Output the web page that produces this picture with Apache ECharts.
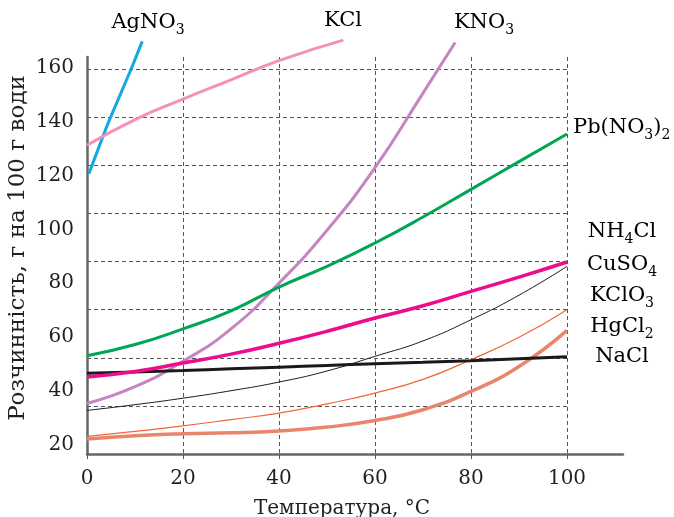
<!DOCTYPE html>
<html>
<head>
<meta charset="utf-8">
<script src="https://cdn.jsdelivr.net/npm/echarts@6/dist/echarts.min.js"></script>
<style>
  html, body { margin: 0; padding: 0; background: #fff; }
  #main { width: 674px; height: 517px; }
</style>
</head>
<body>
<div id="main"></div>
<script>
// температура, °C
var temps = [0, 10, 20, 30, 40, 50, 60, 70, 80, 90, 100];
var yTicks = [20, 40, 60, 80, 100, 120, 140, 160];

// розчинність, г на 100 г води
var pbNO3 = [40.8, 45.5, 52, 59.5, 69.4, 78, 87.7, 98.5, 110, 121.5, 133];
var nh4Cl = [32, 34.3, 37.8, 41.5, 46, 51, 56.5, 61.6, 67.6, 73.5, 79.8];
var cuSO4 = [18.1, 20.5, 23.2, 26.3, 29.9, 34.5, 40.6, 47, 55.8, 66, 78];
var kClO3 = [7.3, 9.4, 11.7, 14.3, 17, 20.8, 25.3, 31, 39.2, 48.5, 60];
var hgCl2 = [6.2, 7.6, 8.4, 8.8, 9.6, 11.2, 13.9, 18.4, 26, 36.4, 51.4];
var naCl = [33.6, 34.1, 34.7, 35.4, 36.1, 36.8, 37.5, 38.1, 38.8, 39.6, 40.4];

var agTemps = [0.4, 4.4, 9.2, 11.5];
var agNO3 = [116.5, 137.5, 160, 171.5];
var kclTemps = [0, 10, 20, 30, 40, 53.4];
var kCl = [128.3, 139, 147.5, 155.5, 163.5, 172];
var knoTemps = [0, 10, 20, 30, 40, 50, 60, 70, 76.7];
var kNO3 = [21, 28, 38.5, 52, 71, 93, 119, 150, 171];

function pairs(xs, ys) {
  return xs.map(function (x, i) { return [x, ys[i]]; });
}

var font = "DejaVu Serif";
var ink = "#231f20";
var grid = { type: [4, 3], color: "#555", width: 1 };

function curve(name, xs, ys, color, width, smooth) {
  return {
    name: name,
    type: "line",
    xAxisIndex: 0,
    yAxisIndex: 0,
    data: pairs(xs, ys),
    smooth: smooth === undefined ? true : smooth,
    symbol: "none",
    clip: false,
    lineStyle: { color: color, width: width, cap: "butt" }
  };
}

function chemText(x, y, parts, align) {
  // {a|..} main text, {s|..} subscript
  return {
    type: "text",
    x: x,
    y: y,
    style: {
      text: parts,
      align: align || "center",
      verticalAlign: "middle",
      rich: {
        a: { fontFamily: font, fontSize: 21, lineHeight: 28, color: ink },
        s: { fontFamily: font, fontSize: 14, lineHeight: 14, color: ink, verticalAlign: "bottom" }
      }
    }
  };
}

var myChart = echarts.init(document.getElementById("main"));

myChart.setOption({
  animation: false,
  backgroundColor: "#fff",
  grid: [
    { left: 87, top: 57, width: 480, height: 397 },
    { left: 87, top: 57, width: 536, height: 397 }
  ],
  xAxis: [
    {
      gridIndex: 0,
      type: "value",
      min: 0,
      max: 100,
      interval: 20,
      axisLine: { show: false },
      axisTick: { show: true, length: 5, lineStyle: { color: "#555", width: 1 } },
      axisLabel: { fontFamily: font, fontSize: 20, color: ink, margin: 15 },
      splitLine: { show: true, showMinLine: false, lineStyle: grid }
    },
    {
      gridIndex: 1,
      type: "value",
      min: 0,
      max: 1,
      axisLine: { show: true, lineStyle: { color: "#666", width: 2.5 } },
      axisTick: { show: false },
      axisLabel: { show: false },
      splitLine: { show: false }
    }
  ],
  yAxis: [
    {
      gridIndex: 0,
      type: "value",
      min: 0,
      max: 165,
      interval: 20,
      axisLine: { show: false },
      axisTick: { show: false },
      axisLabel: { show: false },
      splitLine: { show: true, showMinLine: false, showMaxLine: false, lineStyle: grid }
    },
    {
      // tick labels sit on their own scale, as in the original figure
      gridIndex: 1,
      type: "value",
      min: 16.6,
      max: 164.0,
      axisLine: { show: true, lineStyle: { color: "#666", width: 2.5 } },
      axisTick: { show: false },
      axisLabel: {
        customValues: yTicks,
        fontFamily: font,
        fontSize: 20,
        color: ink,
        margin: 13
      },
      splitLine: { show: false }
    }
  ],
  graphic: [
    {
      type: "text",
      x: 18,
      y: 248,
      rotation: Math.PI / 2,
      style: {
        text: "Розчинність, г на 100 г води",
        fontFamily: font,
        fontSize: 23,
        fill: ink,
        align: "center",
        verticalAlign: "middle"
      }
    },
    {
      type: "text",
      x: 342,
      y: 509,
      style: {
        text: "Температура, °C",
        fontFamily: font,
        fontSize: 20,
        fill: ink,
        align: "center",
        verticalAlign: "middle"
      }
    },
    chemText(148, 23, "{a|AgNO}{s|3}"),
    chemText(343, 21, "{a|KCl}"),
    chemText(484, 23, "{a|KNO}{s|3}"),
    chemText(573, 128, "{a|Pb(NO}{s|3}{a|)}{s|2}", "left"),
    chemText(622, 232, "{a|NH}{s|4}{a|Cl}"),
    chemText(622, 265, "{a|CuSO}{s|4}"),
    chemText(622, 296, "{a|KClO}{s|3}"),
    chemText(622, 327, "{a|HgCl}{s|2}"),
    chemText(622, 357, "{a|NaCl}")
  ],
  series: [
    curve("AgNO3", agTemps, agNO3, "#14a8e4", 3, 0.2),
    curve("KCl", kclTemps, kCl, "#f490ba", 3),
    curve("KNO3", knoTemps, kNO3, "#c585c3", 3),
    curve("Pb(NO3)2", temps, pbNO3, "#00a651", 3),
    curve("HgCl2", temps, hgCl2, "#e8866c", 3.5),
    curve("KClO3", temps, kClO3, "#f2653a", 1.2),
    curve("CuSO4", temps, cuSO4, "#1a1a1a", 1),
    curve("NaCl", temps, naCl, "#1a1a1a", 3),
    curve("NH4Cl", temps, nh4Cl, "#ec0c8c", 3.5)
  ]
});
</script>
</body>
</html>
